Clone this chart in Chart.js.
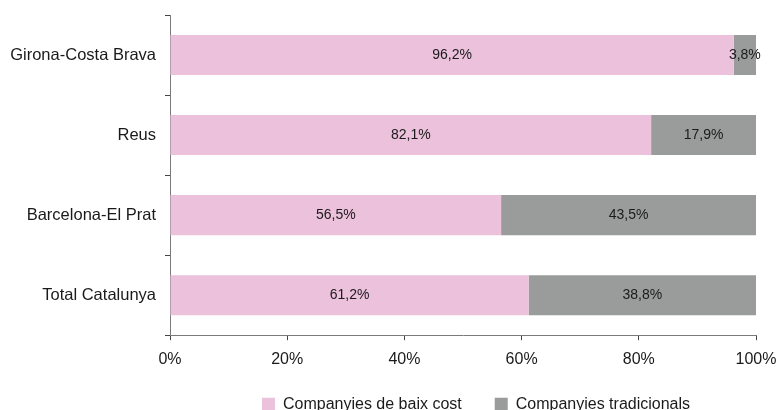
<!DOCTYPE html>
<html lang="ca">
<head>
<meta charset="UTF-8">
<title>Companyies de baix cost vs tradicionals</title>
<script src="https://cdn.jsdelivr.net/npm/chart.js@4/dist/chart.umd.min.js"></script>
<style>
  html, body { margin: 0; padding: 0; background: #fff; }
  .wrap { width: 777px; height: 410px; }
</style>
</head>
<body>
<div class="wrap"><canvas id="chart"></canvas></div>
<script>
const airports = ['Girona-Costa Brava', 'Reus', 'Barcelona-El Prat', 'Total Catalunya'];
const lowCost = [96.2, 82.1, 56.5, 61.2];
const traditional = [3.8, 17.9, 43.5, 38.8];
const xTicks = [0, 20, 40, 60, 80, 100];

const fmt = (v) => v.toFixed(1).replace('.', ',') + '%';

// value labels centred on each bar segment
const segmentLabels = {
  id: 'segmentLabels',
  afterDatasetsDraw(chart) {
    const ctx = chart.ctx;
    ctx.save();
    ctx.font = '14px "Liberation Sans", Arial, sans-serif';
    ctx.fillStyle = '#1a1a1a';
    ctx.textAlign = 'center';
    ctx.textBaseline = 'middle';
    chart.data.datasets.forEach((ds, i) => {
      chart.getDatasetMeta(i).data.forEach((bar, j) => {
        const p = bar.getProps(['x', 'y', 'base'], true);
        ctx.fillText(fmt(ds.data[j]), (p.x + p.base) / 2, p.y);
      });
    });
    ctx.restore();
  }
};

// nudge the legend up and right, like the original
const legendNudge = {
  id: 'legendNudge',
  afterLayout(chart) {
    const lg = chart.legend;
    if (!lg) return;
    lg.top -= 15; lg.bottom -= 15;
    lg.left += 13; lg.right += 13;
  }
};

Chart.defaults.font.family = '"Liberation Sans", Arial, sans-serif';
Chart.defaults.font.size = 16;
Chart.defaults.color = '#1a1a1a';

new Chart(document.getElementById('chart'), {
  type: 'bar',
  data: {
    labels: airports,
    datasets: [
      { label: 'Companyies de baix cost', data: lowCost, backgroundColor: '#ecc1dc' },
      { label: 'Companyies tradicionals', data: traditional, backgroundColor: '#9a9c9c' }
    ]
  },
  options: {
    indexAxis: 'y',
    responsive: true,
    maintainAspectRatio: false,
    animation: false,
    barPercentage: 0.5,
    categoryPercentage: 1,
    layout: { padding: { top: 15, right: 21, left: 0, bottom: -27.2 } },
    plugins: {
      legend: {
        position: 'bottom',
        fullSize: false,
        labels: { boxWidth: 13, boxHeight: 13, padding: 33, font: { size: 16 } }
      },
      tooltip: { enabled: false }
    },
    scales: {
      x: {
        stacked: true,
        min: 0,
        max: 100,
        afterBuildTicks: (axis) => { axis.ticks = xTicks.map((v) => ({ value: v })); },
        afterFit: (axis) => { axis.paddingLeft = 0; axis.paddingRight = 0; },
        ticks: { padding: 11, font: { size: 16, lineHeight: 1 }, callback: (v) => v + '%' },
        grid: { drawOnChartArea: false, tickLength: 5, tickColor: '#444', color: '#808080' },
        border: { color: '#7a7a7a' }
      },
      y: {
        stacked: true,
        afterFit: (axis) => { axis.width = 170; axis.paddingTop = 0; axis.paddingBottom = 0; },
        ticks: { padding: 9, font: { size: 16.5 } },
        grid: { drawOnChartArea: false, tickLength: 5, tickColor: '#444', color: '#808080', offset: true },
        border: { color: '#7a7a7a' }
      }
    }
  },
  plugins: [segmentLabels, legendNudge]
});
</script>
</body>
</html>
